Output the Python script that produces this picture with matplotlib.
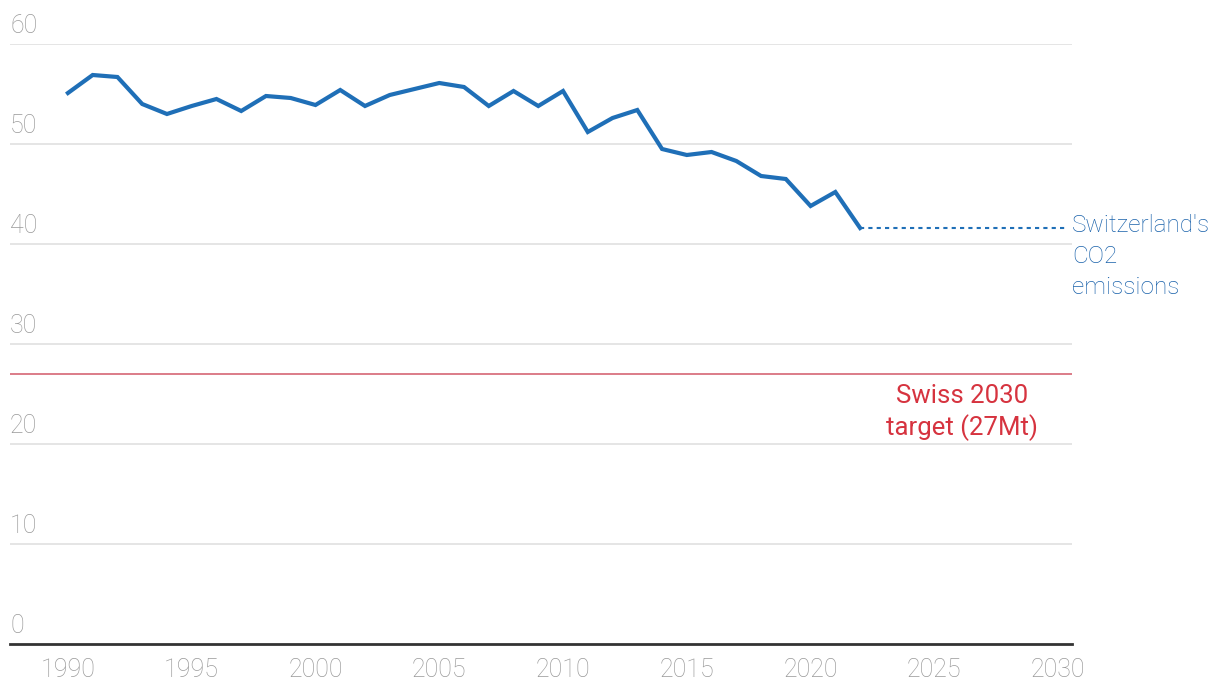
import matplotlib
matplotlib.use('Agg')
import matplotlib.pyplot as plt
import matplotlib.transforms as mtransforms

plt.rcParams['font.family'] = ['Roboto', 'DejaVu Sans']

years = list(range(1990, 2023))
emissions = [55.1, 56.9, 56.7, 54.0, 53.0, 53.8, 54.5, 53.3, 54.8, 54.6,
             53.9, 55.4, 53.8, 54.9, 55.5, 56.1, 55.7, 53.8, 55.3, 53.8,
             55.3, 51.2, 52.6, 53.4, 49.5, 48.9, 49.2, 48.3, 46.8, 46.5,
             43.8, 45.2, 41.6]
target = 27
yticks = [0, 10, 20, 30, 40, 50, 60]
xticks = [1990, 1995, 2000, 2005, 2010, 2015, 2020, 2025, 2030]

blue = '#1f6fb7'
red = '#d6333f'
grey = '#999999'

fig = plt.figure(figsize=(12.2, 6.96), dpi=100)
ax = fig.add_axes([10/1220, 1 - 644/696, 1062/1220, 600/696])

x0, x1 = 1987.66, 2030.56
ax.set_xlim(x0, x1)
ax.set_ylim(0, 60)

for v in yticks[1:]:
    ax.axhline(v, color='#e3e3e3', linewidth=1.3, zorder=1)

ax.axhline(target, color='#d9727f', linewidth=1.3, zorder=2)

ax.plot(years, emissions, color=blue, linewidth=3, solid_joinstyle='miter', zorder=3)
ax.plot([years[-1], 2030.4], [emissions[-1], emissions[-1]], color=blue,
        linewidth=1.5, linestyle=(0, (2, 2)), zorder=3)

trans = mtransforms.blended_transform_factory(ax.transAxes, ax.transData)

ax.text(1.0, emissions[-1] + 1.4, "Switzerland's\nCO2\nemissions", transform=trans,
        color='#1a62ab', fontsize=17.5, fontweight='light', ha='left', va='top',
        linespacing=1.45, clip_on=False)

ax.text(2026.1, target - 1.0, "Swiss 2030\ntarget (27Mt)", color=red, fontsize=18.5,
        ha='center', va='top', linespacing=1.3)

for v in yticks:
    ax.text(0.0, v + 0.6, str(v), transform=trans, color=grey, fontsize=18,
            fontweight='light', ha='left', va='bottom')

ax.set_xticks(xticks)
ax.set_xticklabels([str(t) for t in xticks], fontsize=18, color=grey, fontweight='light')
ax.tick_params(axis='x', length=0, pad=10)
ax.set_yticks([])

for s in ['top', 'right', 'left']:
    ax.spines[s].set_visible(False)
ax.spines['bottom'].set_color('#333333')
ax.spines['bottom'].set_linewidth(2)
ax.spines['bottom'].set_zorder(4)

fig.savefig('out.png', dpi=100, facecolor='white')
